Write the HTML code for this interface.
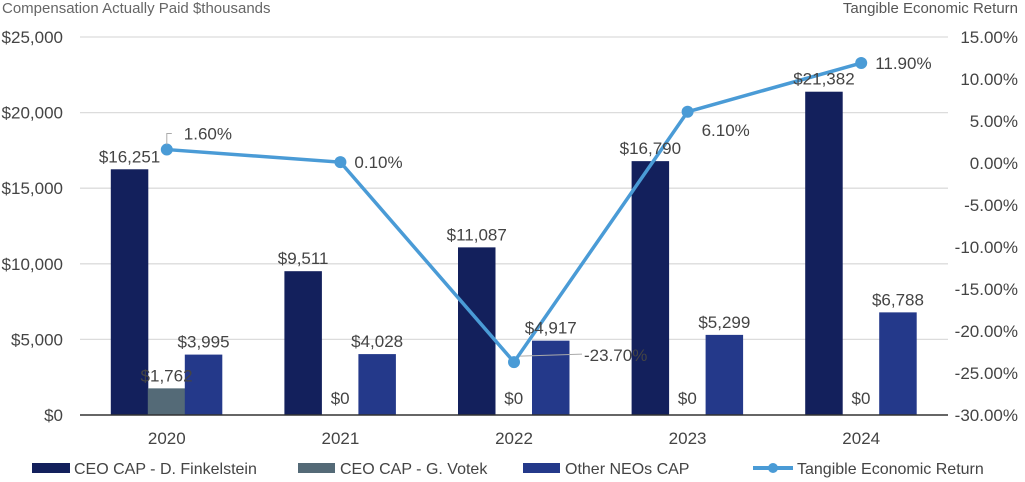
<!DOCTYPE html>
<html><head><meta charset="utf-8"><style>
body{margin:0;background:#fff;}
svg{display:block;font-family:"Liberation Sans",Arial,sans-serif;}
</style></head><body>
<svg id="chart" width="1025" height="482">
<text x="2" y="13" font-size="15" fill="#666">Compensation Actually Paid $thousands</text>
<text x="1018" y="13" font-size="15" fill="#555" text-anchor="end">Tangible Economic Return</text>
<g id="grid"></g><g id="bars"></g><g id="line"></g><g id="labels"></g>
<g font-size="16" fill="#444">
<rect x="32" y="463" width="38" height="10" fill="#13205c"/>
<text x="74" y="474">CEO CAP - D. Finkelstein</text>
<rect x="298" y="463" width="37" height="10" fill="#546a77"/>
<text x="340" y="474">CEO CAP - G. Votek</text>
<rect x="523" y="463" width="37" height="10" fill="#24398a"/>
<text x="565" y="474">Other NEOs CAP</text>
<line x1="753" y1="468" x2="793" y2="468" stroke="#4a9bd6" stroke-width="4"/>
<circle cx="773" cy="468" r="5" fill="#4a9bd6"/>
<text x="797" y="474">Tangible Economic Return</text>
</g>
</svg>
<script>
const categories=["2020","2021","2022","2023","2024"];
const finkelstein=[16251,9511,11087,16790,21382];
const votek=[1762,0,0,0,0];
const otherNeos=[3995,4028,4917,5299,6788];
const ter=[1.6,0.1,-23.7,6.1,11.9];
const leftTicks=[0,5000,10000,15000,20000,25000];
const rightTicks=[15,10,5,0,-5,-10,-15,-20,-25,-30];
const NS="http://www.w3.org/2000/svg";
const X0=80,X1=948,YT=37,YB=415;
const band=(X1-X0)/categories.length;
const xc=i=>X0+band*(i+0.5);
const yL=v=>YB-(v/25000)*(YB-YT);
const yR=v=>YT+(15-v)/45*(YB-YT);
function mk(tag,attrs,parent,txt){const e=document.createElementNS(NS,tag);for(const k in attrs)e.setAttribute(k,attrs[k]);if(txt!=null)e.textContent=txt;document.getElementById(parent).appendChild(e);return e;}
const fmt=v=>"$"+v.toLocaleString("en-US");
leftTicks.forEach(t=>{
 if(t>0){const g=mk("line",{x1:X0,x2:X1,y1:yL(t),y2:yL(t),stroke:"#dcdcdc","stroke-width":1.3},"grid");
 
 }
 const l=mk("text",{x:63,y:yL(t)+6,"font-size":17,fill:"#444","text-anchor":"end"},"grid",fmt(t));
 
 
});
rightTicks.forEach(t=>{
 const l=mk("text",{x:1018,y:yR(t)+6,"font-size":17,fill:"#444","text-anchor":"end"},"grid",t.toFixed(2)+"%");
 
 
});
categories.forEach((c,i)=>{
 const l=mk("text",{x:xc(i),y:444,"font-size":17,fill:"#444","text-anchor":"middle"},"grid",c);
 
 
});
const series=[[finkelstein,"#13205c",-56,"bar-finkelstein"],[votek,"#546a77",-19,"bar-votek"],[otherNeos,"#24398a",18,"bar-other-neos"]];
const BW=37.5;
series.forEach(([vals,col,off,name])=>{
 vals.forEach((v,i)=>{
  const x=xc(i)+off;
  if(v>0){const r=mk("rect",{x:x,y:yL(v),width:BW,height:YB-yL(v),fill:col},"bars");
  
  }
  const t=mk("text",{x:x+BW/2,y:v>0?yL(v)-7:YB-11,"font-size":17,fill:"#444","text-anchor":"middle"},"labels",fmt(v));
  
  
 });
});
const base=mk("line",{x1:X0,x2:X1,y1:YB,y2:YB,stroke:"#333","stroke-width":1.5},"bars");


const pts=ter.map((v,i)=>xc(i)+","+yR(v)).join(" ");
const pl=mk("polyline",{points:pts,fill:"none",stroke:"#4a9bd6","stroke-width":3.5},"line");


ter.forEach((v,i)=>{
 const c=mk("circle",{cx:xc(i),cy:yR(v),r:6,fill:"#4a9bd6"},"line");
 
 
 let lx=xc(i)+14,ly=yR(v)+6;
 if(i===0){lx=xc(i)+17;ly=yR(v)-10;mk("polyline",{points:`${xc(i)},${yR(v)-5} ${xc(i)},${yR(v)-16} ${xc(i)+5},${yR(v)-16}`,fill:"none",stroke:"#aaa","stroke-width":1},"labels");}
 if(i===2){lx=xc(i)+70;mk("line",{x1:xc(i)+6,y1:yR(v)-6,x2:xc(i)+68,y2:yR(v)-8,stroke:"#aaa","stroke-width":1},"labels");ly=yR(v)-1;}
 if(i===3){ly=yR(v)+24;}
 const t=mk("text",{x:lx,y:ly,"font-size":17,fill:"#444"},"labels",v.toFixed(2)+"%");
 
 
});
</script>
</body></html>
